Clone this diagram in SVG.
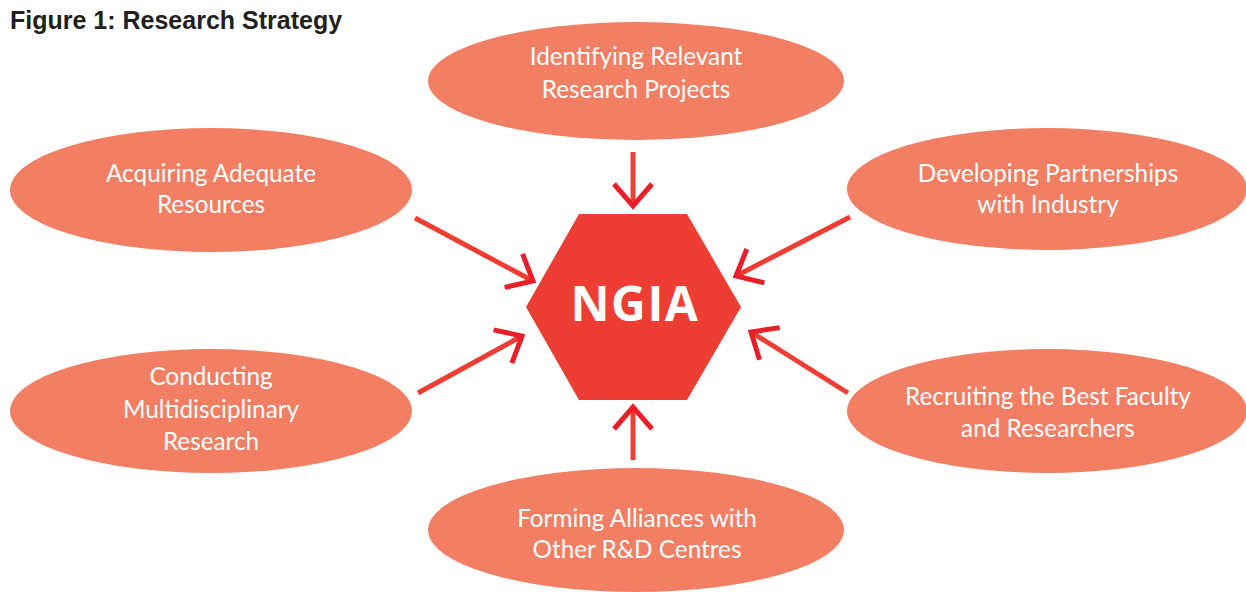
<svg xmlns="http://www.w3.org/2000/svg" width="1246" height="592" viewBox="0 0 1246 592">
<style>
.title{font-family:"Liberation Sans",Arial,sans-serif;font-weight:bold;font-size:25px;fill:#231f20}
.oval{fill:#F27F64}
.lbl{font-family:Lato,"Liberation Sans",sans-serif;font-size:24.3px;fill:#ffffff;text-anchor:middle}
.hub{fill:#EE3E33}
.hubt{font-family:"Open Sans","Liberation Sans",sans-serif;font-weight:bold;font-size:48px;fill:#ffffff;text-anchor:middle;letter-spacing:1.5px}
.conn{stroke:#EE3E33;stroke-width:5;fill:none;marker-end:url(#ah)}
</style>
<defs>
<marker id="ah" markerUnits="userSpaceOnUse" markerWidth="40" markerHeight="44" viewBox="-30 -22 40 44" refX="0" refY="0" orient="auto">
<path d="M-22,-19 L0,0 L-22,19" fill="none" stroke="#E81F28" stroke-width="5"/>
</marker>
</defs>
<rect width="1246" height="592" fill="#ffffff"/>
<text class="title" x="10" y="29">Figure 1: Research Strategy</text>

<g id="connectors">
<line class="conn" x1="633" y1="152" x2="633" y2="206"/>
<line class="conn" x1="415" y1="218" x2="533" y2="281"/>
<line class="conn" x1="418" y1="393" x2="522" y2="336"/>
<line class="conn" x1="850" y1="217" x2="736" y2="276"/>
<line class="conn" x1="848" y1="393" x2="751" y2="332"/>
<line class="conn" x1="633" y1="460" x2="633" y2="407"/>
</g>

<g id="hub">
<polygon class="hub" points="579,214 687,214 741,307 687,400 579,400 526,307"/>
<text class="hubt" x="635" y="321">NGIA</text>
</g>

<g id="n-identifying">
<ellipse class="oval" cx="636" cy="81" rx="208" ry="59"/>
<text class="lbl" x="636" y="65">Identifying Relevant</text>
<text class="lbl" x="636" y="98">Research Projects</text>
</g>

<g id="n-acquiring">
<ellipse class="oval" cx="211" cy="190" rx="201" ry="62"/>
<text class="lbl" x="211" y="182">Acquiring Adequate</text>
<text class="lbl" x="211" y="213">Resources</text>
</g>

<g id="n-developing">
<ellipse class="oval" cx="1047" cy="189" rx="200" ry="61"/>
<text class="lbl" x="1048" y="182">Developing Partnerships</text>
<text class="lbl" x="1048" y="213">with Industry</text>
</g>

<g id="n-conducting">
<ellipse class="oval" cx="211" cy="411" rx="201" ry="62"/>
<text class="lbl" x="211" y="385">Conducting</text>
<text class="lbl" x="211" y="418">Multidisciplinary</text>
<text class="lbl" x="211" y="450">Research</text>
</g>

<g id="n-recruiting">
<ellipse class="oval" cx="1047" cy="411" rx="200" ry="62"/>
<text class="lbl" x="1048" y="405">Recruiting the Best Faculty</text>
<text class="lbl" x="1048" y="437">and Researchers</text>
</g>

<g id="n-forming">
<ellipse class="oval" cx="636" cy="530" rx="208" ry="62"/>
<text class="lbl" x="637" y="527">Forming Alliances with</text>
<text class="lbl" x="637" y="558">Other R&amp;D Centres</text>
</g>
</svg>
